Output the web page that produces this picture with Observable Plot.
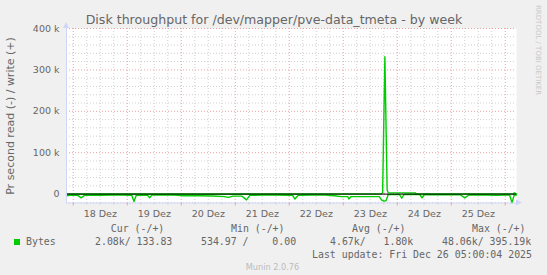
<!DOCTYPE html>
<html><head><meta charset="utf-8">
<script src="https://cdn.jsdelivr.net/npm/d3@7"></script>
<script src="https://cdn.jsdelivr.net/npm/@observablehq/plot@0.6"></script>
<style>
html,body{margin:0;padding:0;background:#f0f0f0;}
#wrap{position:relative;width:547px;height:275px;overflow:hidden;background:#f0f0f0;}
#wrap svg{position:absolute;left:0;top:0;}
</style></head><body><div id="wrap"></div>
<script>
// ---- texts ----
const title = "Disk throughput for /dev/mapper/pve-data_tmeta - by week";
const yLabel = "Pr second read (-) / write (+)";
const watermark = "RRDTOOL / TOBI OETIKER";
const footer = "Munin 2.0.76";
const seriesName = "Bytes";
const lastUpdate = "Last update: Fri Dec 26 05:00:04 2025";
const legendHeaders = ["Cur (-/+)", "Min (-/+)", "Avg (-/+)", "Max (-/+)"];
const legendValues = ["2.08k/ 133.83", "534.97 /    0.00", "4.67k/   1.80k", "48.06k/ 395.19k"];

// ---- axes ----
const xDomain = ["2025-12-17T21:00Z", "2025-12-26T05:00Z"];
const dayTickTimes = ["2025-12-18T12:00Z","2025-12-19T12:00Z","2025-12-20T12:00Z","2025-12-21T12:00Z","2025-12-22T12:00Z","2025-12-23T12:00Z","2025-12-24T12:00Z","2025-12-25T12:00Z"];
const dayLabels = ["18 Dez","19 Dez","20 Dez","21 Dez","22 Dez","23 Dez","24 Dez","25 Dez"];
const yTicks = [0, 100000, 200000, 300000, 400000];
const yTickLabels = ["0", "100 k", "200 k", "300 k", "400 k"];
const yDomain = [-21500, 400000];

// ---- data: write (+) ----
const writeTimes = ["2025-12-17T21:00Z","2025-12-23T17:00Z","2025-12-23T17:30Z","2025-12-23T18:30Z","2025-12-23T19:30Z","2025-12-23T20:00Z","2025-12-24T08:00Z","2025-12-24T08:30Z","2025-12-26T03:30Z","2025-12-26T04:00Z","2025-12-26T05:00Z"];
const writeValues = [300, 500, 4000, 332000, 10000, 3500, 3000, 500, 500, 3000, 500];

// ---- data: read (-) ----
const readTimes = [
 "2025-12-17T21:00Z","2025-12-17T22:30Z","2025-12-18T02:00Z","2025-12-18T03:30Z","2025-12-18T05:00Z",
 "2025-12-18T12:00Z","2025-12-18T17:00Z","2025-12-18T22:00Z","2025-12-19T02:00Z","2025-12-19T03:00Z",
 "2025-12-19T04:00Z","2025-12-19T09:00Z","2025-12-19T10:00Z","2025-12-19T11:00Z","2025-12-19T16:00Z",
 "2025-12-19T21:00Z","2025-12-20T01:00Z","2025-12-20T08:00Z","2025-12-20T14:00Z","2025-12-20T19:00Z",
 "2025-12-20T21:00Z","2025-12-20T23:00Z","2025-12-21T03:00Z","2025-12-21T05:00Z","2025-12-21T06:30Z",
 "2025-12-21T12:00Z","2025-12-21T18:00Z","2025-12-22T00:00Z","2025-12-22T01:30Z","2025-12-22T02:30Z",
 "2025-12-22T04:00Z","2025-12-22T10:00Z","2025-12-22T16:00Z","2025-12-22T20:00Z","2025-12-22T23:00Z",
 "2025-12-23T02:00Z","2025-12-23T02:30Z","2025-12-23T03:30Z","2025-12-23T10:00Z","2025-12-23T16:00Z",
 "2025-12-23T17:00Z","2025-12-23T18:00Z","2025-12-23T19:00Z","2025-12-23T20:00Z","2025-12-24T01:00Z",
 "2025-12-24T02:00Z","2025-12-24T03:00Z","2025-12-24T10:00Z","2025-12-24T11:00Z","2025-12-24T12:00Z",
 "2025-12-24T20:00Z","2025-12-25T04:00Z","2025-12-25T06:00Z","2025-12-25T08:00Z","2025-12-25T16:00Z",
 "2025-12-25T20:00Z","2025-12-26T00:00Z","2025-12-26T02:00Z","2025-12-26T03:00Z","2025-12-26T04:00Z",
 "2025-12-26T05:00Z"];
const readValues = [
 -4000,-3000,-3000,-9000,-3000,
 -3000,-2000,-2500,-3000,-18000,
 -3000,-3000,-9000,-2000,-2000,
 -2500,-4000,-4000,-4500,-6000,
 -8000,-5000,-5000,-14000,-3000,
 -2500,-2500,-3000,-3000,-12000,
 -3000,-2500,-2500,-4000,-6000,
 -6000,-12000,-6000,-6000,-6000,
 -14000,-17000,-16000,-1000,-1000,
 -10000,-1000,-1000,-9000,-1000,
 -1500,-1500,-9000,-1500,-2000,
 -3000,-2000,-3000,-21000,-2000,
 -2000];

const green = "#00cc00";
const axisColor = "#cfd6f8";
const minorGrid = "#d0d0d0";
const majorGrid = "#eba3a3";
const fontColor = "#666666";
const sans = "'DejaVu Sans', sans-serif";
const mono = "'DejaVu Sans Mono', monospace";

const writeData = writeTimes.map((t, i) => ({t: new Date(t), v: writeValues[i]}));
const readData = readTimes.map((t, i) => ({t: new Date(t), v: readValues[i]}));

const x0 = new Date(xDomain[0]), x1 = new Date(xDomain[1]);
const majorX = d3.utcDay.range(d3.utcDay.ceil(x0), x1);
const minorX = d3.utcHour.every(6).range(x0, x1).filter(d => d.getUTCHours() !== 0);
const majorY = d3.range(0, 400001, 100000);
const minorY = d3.range(-20000, 400001, 20000).filter(v => v % 100000 !== 0);

const chart = Plot.plot({
  width: 547, height: 275,
  marginTop: 28, marginLeft: 66, marginRight: 31, marginBottom: 72.5,
  style: {background: "transparent", fontFamily: sans, fontSize: "9.5px", color: fontColor},
  x: {type: "utc", domain: [x0, x1]},
  y: {domain: yDomain},
  marks: [
    Plot.frame({fill: "white", stroke: null}),
    Plot.gridX(minorX, {stroke: minorGrid, strokeOpacity: 1, strokeDasharray: "1,2"}),
    Plot.gridY(minorY, {stroke: minorGrid, strokeOpacity: 1, strokeDasharray: "1,2"}),
    Plot.gridX(majorX, {stroke: majorGrid, strokeOpacity: 1, strokeDasharray: "1,2"}),
    Plot.gridY(majorY, {stroke: majorGrid, strokeOpacity: 1, strokeDasharray: "1,2"}),
    Plot.line(writeData, {x: "t", y: "v", stroke: green, strokeWidth: 1.4}),
    Plot.line(readData, {x: "t", y: "v", stroke: green, strokeWidth: 1.4}),
    Plot.ruleY([0], {stroke: "black", strokeWidth: 1}),
    Plot.frame({anchor: "left", stroke: axisColor}),
    Plot.frame({anchor: "bottom", stroke: axisColor}),
    Plot.axisX(majorX, {tickSize: 3, stroke: majorGrid, tickFormat: () => "", label: null}),
    Plot.axisX(minorX, {tickSize: 2, stroke: minorGrid, tickFormat: () => "", label: null}),
    Plot.axisX(dayTickTimes.map(d => new Date(d)), {tickSize: 0, tickPadding: 7, tickFormat: (d, i) => dayLabels[i], label: null, fill: fontColor}),
    Plot.axisY(yTicks, {tickSize: 0, tickPadding: 7, tickFormat: (d, i) => yTickLabels[i], label: null, fill: fontColor})
  ]
});
const wrap = document.getElementById("wrap");
wrap.appendChild(chart);

// ---- overlay: titles, arrows, legend ----
const svg = d3.select(wrap).append("svg").attr("width", 547).attr("height", 275);
svg.append("text").attr("x", 274).attr("y", 24).attr("text-anchor", "middle")
  .attr("font-family", sans).attr("font-size", 12.6).attr("fill", fontColor).text(title);
svg.append("text").attr("transform", "translate(14,116) rotate(-90)").attr("text-anchor", "middle")
  .attr("font-family", sans).attr("font-size", 11).attr("fill", fontColor).text(yLabel);
svg.append("text").attr("transform", "translate(535.5,5) rotate(90)").attr("text-anchor", "start")
  .attr("font-family", sans).attr("font-size", 7).attr("fill", "#c8c8c8").text(watermark);
// axis arrows
svg.append("path").attr("d", "M63,28 L66,22 L69,28 Z").attr("fill", axisColor);
svg.append("path").attr("d", "M516,199.5 L522,202.5 L516,205.5 Z").attr("fill", axisColor);
// legend
const legX = [110.8, 231, 352, 472];
const valX = [95, 201, 330, 442];
legendHeaders.forEach((h, i) => svg.append("text").attr("x", legX[i]).attr("y", 232)
  .attr("font-family", mono).attr("font-size", 9.9).attr("fill", fontColor).style("white-space", "pre").text(h));
legendValues.forEach((h, i) => svg.append("text").attr("x", valX[i]).attr("y", 245.3)
  .attr("font-family", mono).attr("font-size", 9.9).attr("fill", fontColor).style("white-space", "pre").text(h));
svg.append("rect").attr("x", 14).attr("y", 239).attr("width", 6).attr("height", 6).attr("fill", green);
svg.append("text").attr("x", 26).attr("y", 245.3).attr("font-family", mono).attr("font-size", 9.9).attr("fill", fontColor).text(seriesName);
svg.append("text").attr("x", 532).attr("y", 257.5).attr("text-anchor", "end").attr("font-family", mono).attr("font-size", 9.9).attr("fill", fontColor).style("white-space", "pre").text(lastUpdate);
svg.append("text").attr("x", 272.5).attr("y", 269.5).attr("text-anchor", "middle").attr("font-family", sans).attr("font-size", 8.2).attr("fill", "#bbbbbb").text(footer);
</script></body></html>
